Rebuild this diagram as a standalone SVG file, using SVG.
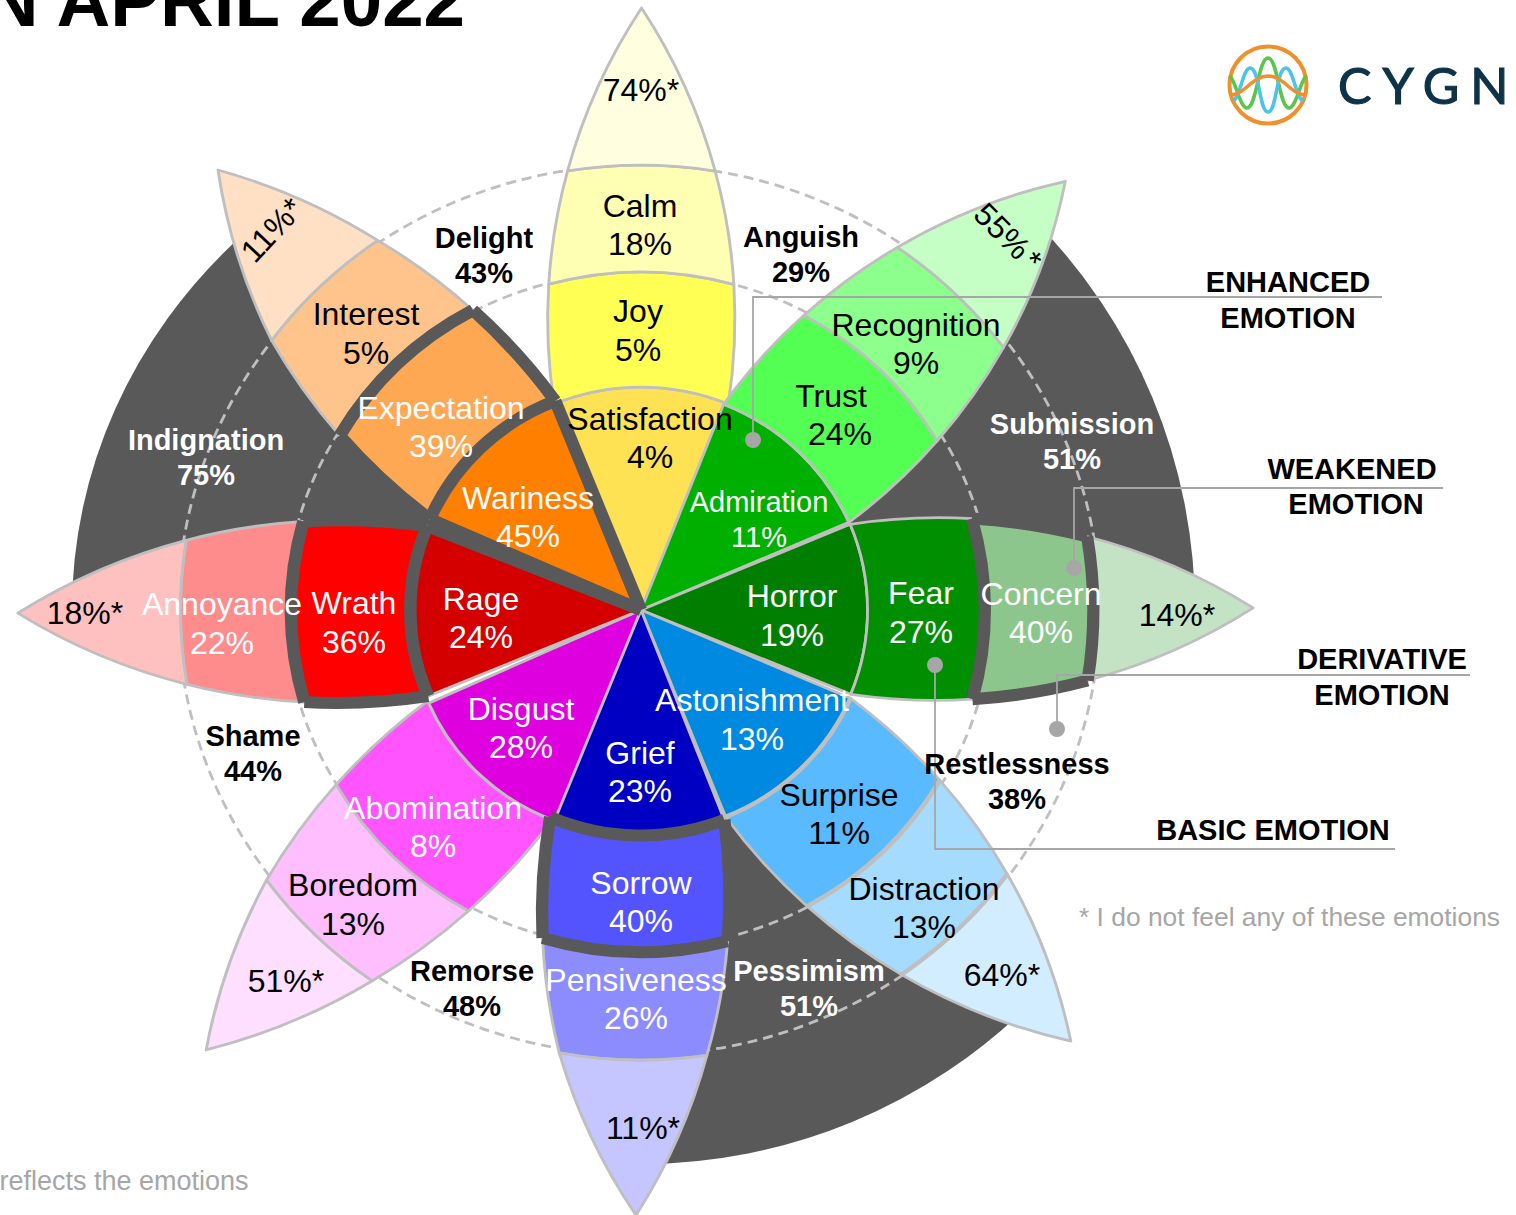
<svg xmlns="http://www.w3.org/2000/svg" width="1516" height="1215" viewBox="0 0 1516 1215">
<style>
.band{stroke:#BFBFBF;stroke-width:2.8;stroke-linejoin:round}
.dk{fill:none;stroke:#595959;stroke-width:12;stroke-linejoin:round}
.lt{fill:none;stroke:#BFBFBF;stroke-width:4.5}
.sector{fill:#595959}
.dash{fill:none;stroke:#BFBFBF;stroke-width:2.8;stroke-dasharray:10 6}
.ln{fill:none;stroke:#A6A6A6;stroke-width:1.8}
.dot{fill:#A6A6A6}
text{font-family:"Liberation Sans",Arial,sans-serif;text-anchor:middle}
.k{font-size:32px;fill:#000}
.w{font-size:32px;fill:#fff}
.b{font-size:29px;font-weight:bold;fill:#000}
.bw{font-size:29px;font-weight:bold;fill:#fff}
.g{font-size:26.4px;fill:#A6A6A6}
</style>
<defs>
<path id="b0" class="band" d="M0 0L-85 -206A223 223 0 0 1 85 -206Z"/>
<path id="b1" class="band" d="M-85 -206A572 572 0 0 1 -90.3 -325.7A338 338 0 0 1 90.3 -325.7A572 572 0 0 1 85 -206A223 223 0 0 0 -85 -206Z"/>
<path id="b2" class="band" d="M-90.3 -325.7A572 572 0 0 1 -72 -439A445 445 0 0 1 72 -439A572 572 0 0 1 90.3 -325.7A338 338 0 0 0 -90.3 -325.7Z"/>
<path id="b3" class="band" d="M-72 -439A572 572 0 0 1 0 -602A572 572 0 0 1 72 -439A445 445 0 0 0 -72 -439Z"/>
<path id="dWedgeL" class="dk" d="M0 0L-85 -206"/>
<path id="dWedgeR" class="dk" d="M0 0L85 -206"/>
<path id="dA223" class="dk" d="M-85 -206A223 223 0 0 1 85 -206"/>
<path id="dA338" class="dk" d="M-90.3 -325.7A338 338 0 0 1 90.3 -325.7"/>
<path id="dA445" class="dk" d="M-72 -439A445 445 0 0 1 72 -439"/>
<path id="dS1L" class="dk" d="M-85 -206A572 572 0 0 1 -90.3 -325.7"/>
<path id="dS1R" class="dk" d="M90.3 -325.7A572 572 0 0 1 85 -206"/>
<path id="dS2L" class="dk" d="M-90.3 -325.7A572 572 0 0 1 -72 -439"/>
<path id="dS2R" class="dk" d="M72 -439A572 572 0 0 1 90.3 -325.7"/>
</defs>

<text x="465" y="26" style="font-size:74.5px;font-weight:bold;text-anchor:end">N APRIL 2022</text>

<g id="sectors">
<path id="indignation" class="sector" d="M640 610L72 610A568 525 0 0 1 238 239Z"/>
<path id="submission" class="sector" d="M640 610L1032 218A555 555 0 0 1 1195 610Z"/>
<path id="pessimism" class="sector" d="M640 610L1032 1002A554 554 0 0 1 640 1164Z"/>
</g>
<g id="rings">
<ellipse class="dash" cx="639" cy="610" rx="353" ry="338"/>
<ellipse class="dash" cx="639" cy="610" rx="461" ry="445"/>
</g>

<g id="petal-joy" transform="translate(641 610) scale(1.025 1) rotate(0.05)">
<use id="satisfaction" href="#b0" fill="#FFE154"/><use id="joy" href="#b1" fill="#FFFF54"/><use id="calm" href="#b2" fill="#FFFFB3"/><use id="joy-tip" href="#b3" fill="#FFFFDF"/>
</g>
<g id="petal-trust" transform="translate(641 610) scale(1.025 1) rotate(44) scale(1 .99)">
<use id="admiration" href="#b0" fill="#00B000"/><use id="trust" href="#b1" fill="#54FF54"/><use id="recognition" href="#b2" fill="#8CFF8C"/><use id="trust-tip" href="#b3" fill="#C6FFC6"/>
</g>
<g id="petal-fear" transform="translate(641 610) scale(1.025 1) rotate(89.8) scale(1 .992)">
<use id="horror" href="#b0" fill="#007E00"/><use id="fear" href="#b1" fill="#008F00"/><use id="concern" href="#b2" fill="#8DC68D"/><use id="fear-tip" href="#b3" fill="#C4E2C4"/>
</g>
<g id="petal-surprise" transform="translate(641 610) scale(1.025 1) rotate(135.8) scale(1 .999)">
<use id="astonishment" href="#b0" fill="#0089E0"/><use id="surprise" href="#b1" fill="#59BAFF"/><use id="distraction" href="#b2" fill="#A5DBFF"/><use id="surprise-tip" href="#b3" fill="#D2EDFF"/>
<path class="lt" d="M-85 -206A223 223 0 0 1 85 -206M-90.3 -325.7A338 338 0 0 1 90.3 -325.7M-72 -439A445 445 0 0 1 72 -439"/>
</g>
<g id="petal-sorrow" transform="translate(641 610) scale(1.025 1) rotate(181) scale(1 1.012)">
<use id="grief" href="#b0" fill="#0000C3"/><use id="sorrow" href="#b1" fill="#5454FF"/><use id="pensiveness" href="#b2" fill="#8C8CFF"/>
<path id="sorrow-tip" class="band" fill="#C5C5FF" d="M-72 -439A572 572 0 0 1 -5.7 -598A572 572 0 0 1 72 -439A445 445 0 0 0 -72 -439Z"/>
</g>
<g id="petal-disgust" transform="translate(641 610) scale(1.025 1) rotate(224.4) scale(1 1.022)">
<use id="abomination" href="#b1" fill="#FF54FF"/><use id="boredom" href="#b2" fill="#FFBFFF"/>
<use id="disgust" href="#b0" fill="#DE00DE" transform="rotate(-0.6)"/>
<path id="disgust-tip" class="band" fill="#FFDFFF" d="M-72 -439A572 572 0 0 1 -4.7 -598A572 572 0 0 1 72 -439A445 445 0 0 0 -72 -439Z"/>
</g>
<g id="petal-anger" transform="translate(641 610) scale(1.025 1) rotate(269.7) scale(1 1.01)">
<use id="rage" href="#b0" fill="#D40000"/><use id="wrath" href="#b1" fill="#FF0000"/><use id="annoyance" href="#b2" fill="#FF8C8C"/><use id="anger-tip" href="#b3" fill="#FFC0C0"/>
</g>
<g id="petal-anticipation" transform="translate(641 610) scale(1.025 1) rotate(316) scale(1 1.012)">
<use id="wariness" href="#b0" fill="#FF7F00"/><use id="expectation" href="#b1" fill="#FFA854"/><use id="interest" href="#b2" fill="#FFC48C"/>
<path id="anticipation-tip" class="band" fill="#FFE0C5" d="M-72 -439A572 572 0 0 1 8.8 -596A572 572 0 0 1 72 -439A445 445 0 0 0 -72 -439Z"/>
</g>

<g id="emphasis">
<g transform="translate(641 610) scale(1.025 1) rotate(316) scale(1 1.012)"><use href="#dWedgeL"/><use href="#dWedgeR"/><use href="#dA223"/><use href="#dA338"/><use href="#dS1L"/><use href="#dS1R"/></g>
<g transform="translate(641 610) scale(1.025 1) rotate(269.7) scale(1 1.01)"><use href="#dWedgeR"/><use href="#dA223"/><use href="#dA338"/><use href="#dS1L"/><use href="#dS1R"/></g>
<g transform="translate(641 610) scale(1.025 1) rotate(89.8) scale(1 .992)"><use href="#dA338"/><use href="#dA445"/><use href="#dS2L"/><use href="#dS2R"/></g>
<g transform="translate(641 610) scale(1.025 1) rotate(181) scale(1 1.012)"><use href="#dA223"/><use href="#dA338"/><use href="#dS1L"/><use href="#dS1R"/></g>
</g>

<g id="connectors">
<path class="ln" d="M1382 297H753V440"/><circle class="dot" cx="753" cy="440" r="8"/>
<path class="ln" d="M1443 488H1074V568"/><circle class="dot" cx="1074" cy="568" r="8"/>
<path class="ln" d="M1470 675H1057V729"/><circle class="dot" cx="1057" cy="729" r="8"/>
<path class="ln" d="M1395 849H935V665"/><circle class="dot" cx="935" cy="665" r="8"/>
</g>

<g id="labels">
<text class="k" x="641" y="101">74%*</text>
<text class="k" x="640" y="217">Calm</text><text class="k" x="640" y="255">18%</text>
<text class="k" x="638" y="322">Joy</text><text class="k" x="638" y="361">5%</text>
<text class="k" x="650" y="430">Satisfaction</text><text class="k" x="650" y="468">4%</text>
<text class="b" x="484" y="248">Delight</text><text class="b" x="484" y="283">43%</text>
<text class="b" x="801" y="247">Anguish</text><text class="b" x="801" y="282">29%</text>
<text class="k" x="366" y="325">Interest</text><text class="k" x="366" y="364">5%</text>
<text class="w" x="441" y="419">Expectation</text><text class="w" x="441" y="457">39%</text>
<text class="w" x="528" y="509">Wariness</text><text class="w" x="528" y="547">45%</text>
<text class="bw" x="206" y="450">Indignation</text><text class="bw" x="206" y="485">75%</text>
<text class="k" x="272" y="241" transform="rotate(-47 272 230)">11%*</text>
<text class="k" x="1008" y="248" transform="rotate(45 1008 237)" style="word-spacing:-5px">55% *</text>
<text class="k" x="916" y="336">Recognition</text><text class="k" x="916" y="374">9%</text>
<text class="k" x="831" y="407">Trust</text><text class="k" x="840" y="445">24%</text>
<text class="w" style="font-size:29px" x="759" y="512">Admiration</text><text class="w" style="font-size:29px" x="759" y="547">11%</text>
<text class="bw" x="1072" y="434">Submission</text><text class="bw" x="1072" y="469">51%</text>
<text class="w" x="792" y="607">Horror</text><text class="w" x="792" y="646">19%</text>
<text class="w" x="921" y="604">Fear</text><text class="w" x="921" y="643">27%</text>
<text class="w" x="1041" y="605">Concern</text><text class="w" x="1041" y="643">40%</text>
<text class="k" x="1177" y="626">14%*</text>
<text class="w" x="481" y="610">Rage</text><text class="w" x="481" y="648">24%</text>
<text class="w" x="354" y="614">Wrath</text><text class="w" x="354" y="653">36%</text>
<text class="w" x="222" y="615">Annoyance</text><text class="w" x="222" y="654">22%</text>
<text class="k" x="85" y="624">18%*</text>
<text class="w" x="521" y="720">Disgust</text><text class="w" x="521" y="758">28%</text>
<text class="w" x="640" y="764">Grief</text><text class="w" x="640" y="802">23%</text>
<text class="w" x="752" y="711">Astonishment</text><text class="w" x="752" y="750">13%</text>
<text class="k" x="839" y="806">Surprise</text><text class="k" x="839" y="844">11%</text>
<text class="k" x="924" y="900">Distraction</text><text class="k" x="924" y="938">13%</text>
<text class="k" x="1002" y="986">64%*</text>
<text class="w" x="641" y="894">Sorrow</text><text class="w" x="641" y="932">40%</text>
<text class="w" x="636" y="991">Pensiveness</text><text class="w" x="636" y="1029">26%</text>
<text class="k" x="643" y="1139">11%*</text>
<text class="w" x="433" y="819">Abomination</text><text class="w" x="433" y="857">8%</text>
<text class="k" x="353" y="896">Boredom</text><text class="k" x="353" y="935">13%</text>
<text class="k" x="286" y="992">51%*</text>
<text class="b" x="253" y="746">Shame</text><text class="b" x="253" y="781">44%</text>
<text class="b" x="472" y="981">Remorse</text><text class="b" x="472" y="1016">48%</text>
<text class="bw" x="809" y="981">Pessimism</text><text class="bw" x="809" y="1016">51%</text>
<text class="b" x="1017" y="774">Restlessness</text><text class="b" x="1017" y="809">38%</text>
<text class="b" x="1288" y="292">ENHANCED</text><text class="b" x="1288" y="328">EMOTION</text>
<text class="b" x="1352" y="479">WEAKENED</text><text class="b" x="1356" y="514">EMOTION</text>
<text class="b" x="1382" y="669">DERIVATIVE</text><text class="b" x="1382" y="705">EMOTION</text>
<text class="b" x="1273" y="840">BASIC EMOTION</text>
<text class="g" x="1289.5" y="926">* I do not feel any of these emotions</text>
<text class="g" x="124" y="1190" style="font-size:27px">reflects the emotions</text>
</g>

<g id="logo">
<circle cx="1268" cy="85" r="38.5" fill="none" stroke="#F0902A" stroke-width="4"/>
<path d="M1230 76C1236 82 1240 108 1247 108C1257 108 1258 58 1268 58C1278 58 1279 108 1289 108C1296 108 1300 82 1306 76" fill="none" stroke="#5BC64A" stroke-width="3.5"/>
<path d="M1233 101C1240 98 1243 68 1250 68C1260 68 1259 112 1268 112C1277 112 1276 68 1286 68C1293 68 1296 98 1303 101" fill="none" stroke="#4CC3EC" stroke-width="3.5"/>
<path d="M1230 95C1245 95 1252 76 1268 76C1284 76 1291 95 1306 95" fill="none" stroke="#F0902A" stroke-width="3.5"/>
<text x="1338" y="104" style="font-family:Lato,'Liberation Sans',sans-serif;font-size:50px;fill:#0E3349;stroke:#0E3349;stroke-width:1.2;text-anchor:start"><tspan style="letter-spacing:11px">CYG</tspan>N</text>
</g>
</svg>
